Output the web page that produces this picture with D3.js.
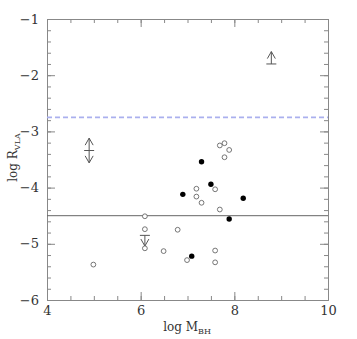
<!DOCTYPE html>
<html><head><meta charset="utf-8">
<script src="https://cdn.jsdelivr.net/npm/d3@7"></script>
<style>body{margin:0;background:#fff}svg{display:block}text{font-family:"DejaVu Serif","Liberation Serif",serif}</style>
</head><body><div id="c"></div>
<script>
const openX = [7.69,7.79,7.89,7.79,7.19,7.59,7.19,7.30,7.69,6.09,6.09,6.79,6.09,6.49,7.59,6.99,7.59,4.99];
const openY = [-3.25,-3.21,-3.33,-3.46,-4.02,-4.03,-4.16,-4.27,-4.39,-4.51,-4.74,-4.75,-5.08,-5.13,-5.12,-5.29,-5.33,-5.37];
const filledX = [7.30,7.50,6.90,8.19,7.89,7.09];
const filledY = [-3.54,-3.94,-4.12,-4.19,-4.56,-5.22];
// limit markers: type, x, y (bar position), arrow length
const limitType = ["both","up","down"];
const limitX = [4.90,8.79,6.09];
const limitY = [-3.34,-1.80,-4.85];
const limitLen = [0.22,0.22,0.19];
const xTicksMajor = [4,6,8,10];
const yTicksMajor = [-6,-5,-4,-3,-2,-1];
const dashedLevel = -2.75;
const solidLevel = -4.5;

const W=357,H=339, m={l:47,t:19,r:29,b:39};
const svg=d3.select("#c").append("svg").attr("width",W).attr("height",H);
const x=d3.scaleLinear().domain([4,10]).range([m.l,W-m.r]);
const y=d3.scaleLinear().domain([-6,-1]).range([H-m.b,m.t]);
const ax="#888", tc="#333";
const xMinor=d3.range(4,10.01,0.5), yMinor=d3.range(-6,-0.99,0.2).map(v=>+v.toFixed(2));
function styleAxis(g){g.select(".domain").attr("stroke",ax);g.selectAll(".tick line").attr("stroke",ax);g.selectAll("text").attr("fill",tc).attr("font-size",13);}
// bottom
svg.append("g").attr("transform",`translate(0,${y(-6)})`).call(d3.axisBottom(x).tickValues(xMinor).tickSize(-4).tickSizeOuter(0).tickFormat("")).call(styleAxis);
svg.append("g").attr("transform",`translate(0,${y(-6)})`).call(d3.axisBottom(x).tickValues(xTicksMajor).tickSizeInner(-8).tickSizeOuter(0).tickPadding(6).tickFormat(d3.format("d"))).call(styleAxis);
// top
svg.append("g").attr("transform",`translate(0,${y(-1)})`).call(d3.axisTop(x).tickValues(xMinor).tickSize(-4).tickSizeOuter(0).tickFormat("")).call(styleAxis);
svg.append("g").attr("transform",`translate(0,${y(-1)})`).call(d3.axisTop(x).tickValues(xTicksMajor).tickSize(-8).tickSizeOuter(0).tickFormat("")).call(styleAxis);
// left
svg.append("g").attr("transform",`translate(${x(4)},0)`).call(d3.axisLeft(y).tickValues(yMinor).tickSize(-4).tickSizeOuter(0).tickFormat("")).call(styleAxis);
svg.append("g").attr("transform",`translate(${x(4)},0)`).call(d3.axisLeft(y).tickValues(yTicksMajor).tickSizeInner(-8).tickSizeOuter(0).tickPadding(8).tickFormat(d=>"\u2212"+Math.abs(d))).call(styleAxis);
// right
svg.append("g").attr("transform",`translate(${x(10)},0)`).call(d3.axisRight(y).tickValues(yMinor).tickSize(-4).tickSizeOuter(0).tickFormat("")).call(styleAxis);
svg.append("g").attr("transform",`translate(${x(10)},0)`).call(d3.axisRight(y).tickValues(yTicksMajor).tickSize(-8).tickSizeOuter(0).tickFormat("")).call(styleAxis);

// reference lines
svg.append("line").attr("x1",x(4)).attr("x2",x(10)).attr("y1",y(dashedLevel)).attr("y2",y(dashedLevel)).attr("stroke","#aab0ee").attr("stroke-width",1.8).attr("stroke-dasharray","5,3");
svg.append("line").attr("x1",x(4)).attr("x2",x(10)).attr("y1",y(solidLevel)).attr("y2",y(solidLevel)).attr("stroke","#666").attr("stroke-width",1);

// limits
const lg=svg.append("g").attr("stroke","#555").attr("fill","none").attr("stroke-width",1);
limitType.forEach((t,i)=>{
  const cx=x(limitX[i]), cy=y(limitY[i]);
  const L=limitLen[i];
  const tips=[];
  if(t==="both"){tips.push(limitY[i]+L,limitY[i]-L);}
  else if(t==="up") tips.push(limitY[i]+L);
  else tips.push(limitY[i]-L);
  lg.append("line").attr("x1",cx-5).attr("x2",cx+5).attr("y1",cy).attr("y2",cy);
  tips.forEach(tv=>{
    const ty=y(tv), dir=ty<cy?1:-1;
    lg.append("line").attr("x1",cx).attr("x2",cx).attr("y1",cy).attr("y2",ty);
    lg.append("path").attr("d",`M${cx-4},${ty+dir*7}L${cx},${ty}L${cx+4},${ty+dir*7}`);
  });
});

// points
svg.append("g").selectAll("circle").data(openX.map((v,i)=>[v,openY[i]])).join("circle")
 .attr("cx",d=>x(d[0])).attr("cy",d=>y(d[1])).attr("r",2.4).attr("fill","#fff").attr("stroke","#666").attr("stroke-width",0.9);
svg.append("g").selectAll("circle").data(filledX.map((v,i)=>[v,filledY[i]])).join("circle")
 .attr("cx",d=>x(d[0])).attr("cy",d=>y(d[1])).attr("r",2.7).attr("fill","#000");

// axis labels
const xl=svg.append("text").attr("x",187).attr("y",331).attr("text-anchor","middle").attr("fill",tc).attr("font-size",12);
xl.append("tspan").text("log  M");
xl.append("tspan").attr("font-size",8).attr("dy",3).text("BH");
const yl=svg.append("text").attr("transform",`translate(17,${(y(-1)+y(-6))/2 - 2}) rotate(-90)`).attr("text-anchor","middle").attr("fill",tc).attr("font-size",12);
yl.append("tspan").text("log  R");
yl.append("tspan").attr("font-size",8).attr("dy",3).text("VLA");
</script></body></html>
